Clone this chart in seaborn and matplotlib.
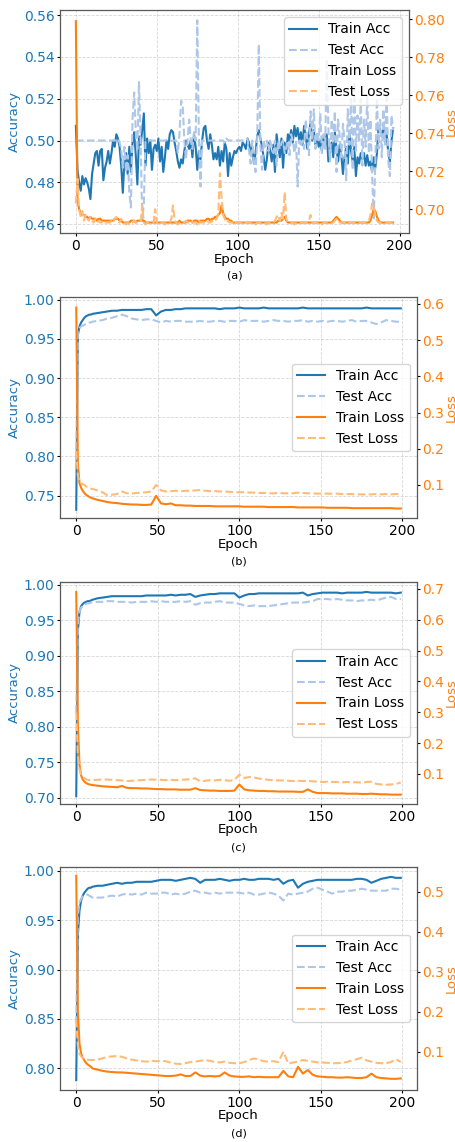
import numpy as np
import pandas as pd
import seaborn as sns
import matplotlib.pyplot as plt

plt.rcParams["font.family"] = ["DejaVu Sans"]
plt.rcParams["font.size"] = 10

BLUE, LBLUE = "#1f77b4", "#aec7e8"
ORANGE, LORANGE = "#ff7f0e", "#ffbb78"

# ---- panel (a): one value per epoch (0..196)
a_epochs = list(range(197))
a_train_acc = [
    0.507, 0.486, 0.480, 0.476, 0.483, 0.479, 0.482, 0.480, 0.477, 0.472,
    0.484, 0.489, 0.494, 0.495, 0.488, 0.495, 0.496, 0.481, 0.487, 0.490,
    0.495, 0.489, 0.494, 0.500, 0.497, 0.503, 0.501, 0.497, 0.488, 0.475,
    0.490, 0.494, 0.484, 0.497, 0.485, 0.499, 0.504, 0.493, 0.479, 0.502,
    0.498, 0.505, 0.513, 0.488, 0.501, 0.494, 0.500, 0.486, 0.496, 0.498,
    0.495, 0.501, 0.490, 0.497, 0.485, 0.492, 0.500, 0.496, 0.503, 0.505,
    0.504, 0.499, 0.495, 0.490, 0.487, 0.491, 0.489, 0.495, 0.500, 0.498,
    0.496, 0.500, 0.492, 0.503, 0.497, 0.486, 0.495, 0.491, 0.500, 0.506,
    0.507, 0.500, 0.496, 0.503, 0.498, 0.491, 0.494, 0.491, 0.497, 0.488,
    0.495, 0.490, 0.499, 0.496, 0.483, 0.494, 0.488, 0.492, 0.495, 0.494,
    0.496, 0.497, 0.495, 0.499, 0.498, 0.496, 0.501, 0.499, 0.494, 0.497,
    0.489, 0.494, 0.502, 0.505, 0.501, 0.497, 0.492, 0.486, 0.491, 0.499,
    0.495, 0.490, 0.498, 0.485, 0.503, 0.497, 0.492, 0.501, 0.487, 0.499,
    0.494, 0.503, 0.500, 0.505, 0.499, 0.507, 0.502, 0.506, 0.500, 0.504,
    0.498, 0.507, 0.502, 0.496, 0.503, 0.509, 0.500, 0.505, 0.498, 0.503,
    0.497, 0.500, 0.495, 0.502, 0.498, 0.503, 0.490, 0.496, 0.499, 0.492,
    0.504, 0.496, 0.490, 0.498, 0.493, 0.484, 0.492, 0.497, 0.489, 0.503,
    0.495, 0.490, 0.497, 0.483, 0.492, 0.489, 0.494, 0.491, 0.494, 0.488,
    0.493, 0.488, 0.490, 0.485, 0.492, 0.487, 0.494, 0.507, 0.505, 0.502,
    0.506, 0.499, 0.503, 0.494, 0.490, 0.500, 0.506,
]
a_test_acc = [
    0.500, 0.500, 0.500, 0.500, 0.500, 0.500, 0.500, 0.500, 0.500, 0.500,
    0.500, 0.500, 0.500, 0.500, 0.500, 0.500, 0.500, 0.500, 0.500, 0.500,
    0.500, 0.500, 0.500, 0.500, 0.500, 0.500, 0.501, 0.499, 0.496, 0.487,
    0.497, 0.485, 0.493, 0.475, 0.468, 0.510, 0.523, 0.505, 0.495, 0.528,
    0.500, 0.462, 0.470, 0.500, 0.500, 0.500, 0.500, 0.500, 0.500, 0.500,
    0.500, 0.500, 0.500, 0.500, 0.500, 0.500, 0.500, 0.500, 0.500, 0.500,
    0.500, 0.500, 0.500, 0.494, 0.503, 0.519, 0.517, 0.500, 0.491, 0.500,
    0.510, 0.500, 0.496, 0.504, 0.500, 0.5575, 0.502, 0.478, 0.500, 0.500,
    0.500, 0.500, 0.500, 0.500, 0.500, 0.500, 0.500, 0.500, 0.500, 0.500,
    0.500, 0.500, 0.499, 0.501, 0.500, 0.500, 0.500, 0.500, 0.500, 0.500,
    0.500, 0.500, 0.500, 0.500, 0.500, 0.500, 0.501, 0.495, 0.489, 0.500,
    0.490, 0.485, 0.500, 0.546, 0.498, 0.486, 0.500, 0.497, 0.500, 0.495,
    0.500, 0.497, 0.494, 0.500, 0.488, 0.500, 0.496, 0.499, 0.500, 0.494,
    0.497, 0.500, 0.493, 0.503, 0.500, 0.494, 0.500, 0.478, 0.500, 0.497,
    0.500, 0.496, 0.510, 0.500, 0.493, 0.514, 0.500, 0.515, 0.496, 0.504,
    0.500, 0.513, 0.494, 0.503, 0.496, 0.539, 0.505, 0.490, 0.510, 0.499,
    0.514, 0.485, 0.510, 0.502, 0.492, 0.508, 0.500, 0.481, 0.515, 0.498,
    0.520, 0.486, 0.528, 0.495, 0.512, 0.500, 0.520, 0.488, 0.510, 0.497,
    0.521, 0.494, 0.510, 0.484, 0.462, 0.490, 0.520, 0.496, 0.510, 0.492,
    0.515, 0.498, 0.523, 0.490, 0.483, 0.512, 0.505,
]
a_train_loss = [
    0.799, 0.705, 0.700, 0.698, 0.697, 0.697, 0.696, 0.696, 0.695, 0.696,
    0.695, 0.695, 0.695, 0.694, 0.695, 0.695, 0.694, 0.694, 0.694, 0.694,
    0.694, 0.694, 0.694, 0.694, 0.695, 0.695, 0.695, 0.694, 0.694, 0.693,
    0.693, 0.693, 0.693, 0.693, 0.694, 0.694, 0.694, 0.693, 0.694, 0.694,
    0.694, 0.694, 0.694, 0.693, 0.693, 0.693, 0.693, 0.693, 0.693, 0.693,
    0.693, 0.693, 0.693, 0.693, 0.693, 0.693, 0.693, 0.693, 0.693, 0.693,
    0.693, 0.693, 0.693, 0.693, 0.694, 0.693, 0.693, 0.693, 0.693, 0.694,
    0.694, 0.694, 0.693, 0.694, 0.694, 0.694, 0.693, 0.694, 0.694, 0.694,
    0.694, 0.695, 0.695, 0.694, 0.695, 0.695, 0.696, 0.696, 0.697, 0.698,
    0.702, 0.698, 0.696, 0.695, 0.695, 0.694, 0.694, 0.693, 0.693, 0.693,
    0.693, 0.693, 0.693, 0.693, 0.693, 0.693, 0.693, 0.693, 0.693, 0.693,
    0.693, 0.693, 0.693, 0.693, 0.693, 0.693, 0.693, 0.693, 0.693, 0.693,
    0.693, 0.693, 0.693, 0.693, 0.693, 0.694, 0.694, 0.694, 0.695, 0.696,
    0.694, 0.693, 0.693, 0.693, 0.693, 0.693, 0.693, 0.693, 0.693, 0.693,
    0.693, 0.693, 0.693, 0.693, 0.693, 0.693, 0.693, 0.693, 0.693, 0.693,
    0.693, 0.693, 0.693, 0.693, 0.693, 0.693, 0.693, 0.693, 0.693, 0.694,
    0.695, 0.696, 0.695, 0.694, 0.693, 0.693, 0.693, 0.693, 0.693, 0.693,
    0.693, 0.693, 0.693, 0.693, 0.693, 0.693, 0.693, 0.693, 0.693, 0.693,
    0.693, 0.693, 0.694, 0.697, 0.700, 0.699, 0.696, 0.694, 0.693, 0.693,
    0.693, 0.693, 0.693, 0.693, 0.693, 0.693, 0.693,
]
a_test_loss = [
    0.703, 0.716, 0.700, 0.696, 0.699, 0.694, 0.697, 0.695, 0.694, 0.696,
    0.694, 0.693, 0.695, 0.693, 0.694, 0.693, 0.693, 0.694, 0.693, 0.693,
    0.693, 0.693, 0.694, 0.693, 0.695, 0.696, 0.694, 0.693, 0.695, 0.693,
    0.693, 0.692, 0.693, 0.692, 0.693, 0.693, 0.694, 0.693, 0.693, 0.693,
    0.693, 0.702, 0.693, 0.692, 0.693, 0.693, 0.693, 0.693, 0.693, 0.700,
    0.693, 0.692, 0.693, 0.693, 0.693, 0.692, 0.693, 0.693, 0.693, 0.695,
    0.702, 0.694, 0.693, 0.692, 0.693, 0.693, 0.693, 0.693, 0.694, 0.693,
    0.693, 0.694, 0.693, 0.693, 0.693, 0.692, 0.694, 0.693, 0.693, 0.693,
    0.693, 0.694, 0.693, 0.693, 0.694, 0.693, 0.694, 0.695, 0.698, 0.719,
    0.706, 0.697, 0.695, 0.693, 0.694, 0.693, 0.693, 0.693, 0.692, 0.693,
    0.693, 0.693, 0.693, 0.692, 0.693, 0.693, 0.693, 0.693, 0.693, 0.693,
    0.693, 0.692, 0.693, 0.693, 0.693, 0.693, 0.693, 0.693, 0.692, 0.693,
    0.693, 0.693, 0.693, 0.694, 0.696, 0.697, 0.694, 0.698, 0.695, 0.709,
    0.695, 0.693, 0.693, 0.693, 0.693, 0.692, 0.693, 0.693, 0.693, 0.693,
    0.693, 0.693, 0.693, 0.693, 0.694, 0.697, 0.693, 0.693, 0.693, 0.693,
    0.693, 0.693, 0.692, 0.693, 0.693, 0.693, 0.693, 0.693, 0.693, 0.693,
    0.694, 0.695, 0.694, 0.693, 0.693, 0.693, 0.693, 0.692, 0.693, 0.693,
    0.693, 0.693, 0.693, 0.693, 0.693, 0.693, 0.693, 0.693, 0.693, 0.693,
    0.693, 0.694, 0.697, 0.703, 0.701, 0.697, 0.694, 0.693, 0.693, 0.693,
    0.693, 0.693, 0.693, 0.693, 0.693, 0.693, 0.693,
]

# ---- panels (b)-(d): logged at these epochs
epochs = [0, 1, 2, 3, 4, 5, 6, 7, 8, 9] + list(range(10, 200, 3))

b_train_acc = [
    0.732, 0.955, 0.966, 0.971, 0.974, 0.977, 0.979, 0.980, 0.981, 0.981,
    0.982, 0.983, 0.984, 0.985, 0.986, 0.986, 0.987, 0.987, 0.987, 0.987,
    0.987, 0.988, 0.988, 0.980, 0.985, 0.987, 0.987, 0.988, 0.988, 0.989,
    0.989, 0.989, 0.989, 0.989, 0.989, 0.989, 0.988, 0.989, 0.989, 0.989,
    0.990, 0.989, 0.989, 0.989, 0.989, 0.990, 0.989, 0.989, 0.989, 0.989,
    0.989, 0.989, 0.989, 0.990, 0.989, 0.989, 0.989, 0.989, 0.989, 0.989,
    0.989, 0.989, 0.989, 0.989, 0.989, 0.989, 0.990, 0.989, 0.989, 0.989,
    0.989, 0.989, 0.989, 0.989,
]
b_test_acc = [
    0.795, 0.960, 0.964, 0.966, 0.967, 0.968, 0.969, 0.970, 0.971, 0.971,
    0.972, 0.973, 0.974, 0.976, 0.977, 0.979, 0.981, 0.979, 0.976, 0.975,
    0.974, 0.975, 0.975, 0.973, 0.971, 0.973, 0.972, 0.973, 0.973, 0.972,
    0.972, 0.972, 0.973, 0.972, 0.972, 0.973, 0.973, 0.972, 0.973, 0.973,
    0.972, 0.974, 0.973, 0.973, 0.973, 0.972, 0.973, 0.974, 0.973, 0.973,
    0.972, 0.973, 0.973, 0.974, 0.972, 0.973, 0.972, 0.973, 0.972, 0.973,
    0.973, 0.972, 0.973, 0.974, 0.972, 0.973, 0.973, 0.971, 0.969, 0.971,
    0.974, 0.973, 0.972, 0.972,
]
b_train_loss = [
    0.590, 0.160, 0.105, 0.092, 0.084, 0.078, 0.073, 0.070, 0.067, 0.065,
    0.063, 0.059, 0.056, 0.053, 0.051, 0.050, 0.048, 0.047, 0.046, 0.046,
    0.045, 0.045, 0.046, 0.070, 0.049, 0.047, 0.049, 0.044, 0.044, 0.043,
    0.043, 0.042, 0.042, 0.042, 0.042, 0.041, 0.041, 0.041, 0.041, 0.041,
    0.041, 0.040, 0.040, 0.040, 0.040, 0.040, 0.039, 0.039, 0.039, 0.039,
    0.039, 0.039, 0.038, 0.038, 0.038, 0.038, 0.038, 0.038, 0.037, 0.037,
    0.037, 0.037, 0.037, 0.036, 0.036, 0.036, 0.036, 0.036, 0.036, 0.036,
    0.036, 0.036, 0.035, 0.035,
]
b_test_loss = [
    0.195, 0.125, 0.110, 0.105, 0.102, 0.100, 0.096, 0.094, 0.092, 0.090,
    0.089, 0.085, 0.080, 0.072, 0.073, 0.075, 0.082, 0.077, 0.076, 0.078,
    0.079, 0.080, 0.082, 0.100, 0.085, 0.082, 0.083, 0.084, 0.083, 0.084,
    0.084, 0.085, 0.086, 0.084, 0.083, 0.083, 0.082, 0.082, 0.081, 0.080,
    0.080, 0.080, 0.079, 0.079, 0.078, 0.078, 0.077, 0.077, 0.078, 0.077,
    0.077, 0.077, 0.079, 0.078, 0.077, 0.077, 0.076, 0.077, 0.076, 0.076,
    0.076, 0.075, 0.075, 0.075, 0.074, 0.074, 0.074, 0.074, 0.075, 0.074,
    0.075, 0.074, 0.075, 0.075,
]

c_train_acc = [
    0.702, 0.935, 0.962, 0.970, 0.973, 0.975, 0.976, 0.977, 0.977, 0.978,
    0.979, 0.981, 0.982, 0.983, 0.984, 0.984, 0.984, 0.984, 0.984, 0.984,
    0.984, 0.985, 0.985, 0.985, 0.985, 0.985, 0.986, 0.985, 0.986, 0.986,
    0.987, 0.983, 0.985, 0.986, 0.987, 0.987, 0.988, 0.988, 0.988, 0.988,
    0.982, 0.985, 0.987, 0.987, 0.988, 0.988, 0.988, 0.988, 0.988, 0.988,
    0.988, 0.988, 0.988, 0.989, 0.985, 0.987, 0.988, 0.989, 0.989, 0.989,
    0.989, 0.988, 0.989, 0.989, 0.989, 0.989, 0.990, 0.989, 0.989, 0.989,
    0.989, 0.989, 0.988, 0.989,
]
c_test_acc = [
    0.820, 0.945, 0.963, 0.968, 0.970, 0.972, 0.973, 0.974, 0.974, 0.975,
    0.975, 0.976, 0.976, 0.977, 0.977, 0.976, 0.976, 0.976, 0.975, 0.976,
    0.976, 0.976, 0.977, 0.976, 0.977, 0.976, 0.976, 0.976, 0.977, 0.976,
    0.977, 0.972, 0.974, 0.975, 0.975, 0.976, 0.977, 0.975, 0.975, 0.975,
    0.973, 0.971, 0.970, 0.971, 0.970, 0.970, 0.970, 0.971, 0.972, 0.973,
    0.974, 0.975, 0.975, 0.975, 0.976, 0.977, 0.980, 0.980, 0.980, 0.979,
    0.980, 0.979, 0.978, 0.978, 0.977, 0.978, 0.978, 0.979, 0.978, 0.980,
    0.982, 0.983, 0.980, 0.980,
]
c_train_loss = [
    0.690, 0.260, 0.130, 0.095, 0.082, 0.075, 0.071, 0.068, 0.066, 0.065,
    0.064, 0.062, 0.060, 0.059, 0.058, 0.057, 0.061, 0.055, 0.054, 0.054,
    0.053, 0.053, 0.052, 0.051, 0.051, 0.050, 0.050, 0.050, 0.049, 0.049,
    0.049, 0.054, 0.048, 0.047, 0.046, 0.046, 0.045, 0.045, 0.045, 0.046,
    0.066, 0.050, 0.047, 0.046, 0.045, 0.045, 0.044, 0.044, 0.043, 0.043,
    0.043, 0.043, 0.042, 0.042, 0.050, 0.042, 0.038, 0.038, 0.038, 0.037,
    0.037, 0.037, 0.036, 0.036, 0.036, 0.035, 0.035, 0.036, 0.035, 0.034,
    0.034, 0.033, 0.033, 0.033,
]
c_test_loss = [
    0.300, 0.160, 0.115, 0.098, 0.090, 0.086, 0.083, 0.081, 0.080, 0.080,
    0.080, 0.081, 0.082, 0.082, 0.081, 0.080, 0.079, 0.077, 0.078, 0.079,
    0.080, 0.081, 0.082, 0.082, 0.081, 0.080, 0.081, 0.080, 0.081, 0.082,
    0.083, 0.086, 0.076, 0.078, 0.080, 0.079, 0.081, 0.080, 0.078, 0.080,
    0.098, 0.087, 0.090, 0.089, 0.085, 0.083, 0.081, 0.080, 0.079, 0.079,
    0.078, 0.077, 0.078, 0.077, 0.078, 0.076, 0.075, 0.074, 0.075, 0.074,
    0.074, 0.073, 0.074, 0.073, 0.073, 0.072, 0.074, 0.075, 0.068, 0.066,
    0.065, 0.066, 0.068, 0.072,
]

d_train_acc = [
    0.788, 0.935, 0.960, 0.970, 0.975, 0.978, 0.980, 0.982, 0.983, 0.983,
    0.984, 0.985, 0.985, 0.986, 0.987, 0.988, 0.987, 0.988, 0.988, 0.989,
    0.989, 0.989, 0.989, 0.990, 0.991, 0.991, 0.991, 0.990, 0.991, 0.992,
    0.993, 0.992, 0.988, 0.991, 0.991, 0.991, 0.992, 0.991, 0.990, 0.991,
    0.991, 0.992, 0.991, 0.991, 0.992, 0.992, 0.992, 0.991, 0.992, 0.987,
    0.990, 0.991, 0.983, 0.987, 0.989, 0.990, 0.991, 0.991, 0.991, 0.991,
    0.991, 0.991, 0.991, 0.991, 0.992, 0.992, 0.991, 0.988, 0.990, 0.992,
    0.993, 0.994, 0.993, 0.993,
]
d_test_acc = [
    0.845, 0.955, 0.968, 0.972, 0.974, 0.975, 0.976, 0.976, 0.975, 0.974,
    0.973, 0.973, 0.973, 0.974, 0.975, 0.974, 0.976, 0.977, 0.976, 0.977,
    0.976, 0.978, 0.977, 0.977, 0.978, 0.978, 0.976, 0.977, 0.976, 0.977,
    0.979, 0.980, 0.978, 0.978, 0.977, 0.978, 0.977, 0.978, 0.978, 0.978,
    0.978, 0.977, 0.978, 0.976, 0.976, 0.977, 0.978, 0.977, 0.975, 0.970,
    0.977, 0.976, 0.977, 0.978, 0.979, 0.982, 0.983, 0.981, 0.979, 0.977,
    0.979, 0.979, 0.980, 0.980, 0.981, 0.982, 0.981, 0.980, 0.980, 0.980,
    0.980, 0.982, 0.982, 0.981,
]
d_train_loss = [
    0.540, 0.200, 0.120, 0.095, 0.085, 0.078, 0.072, 0.068, 0.065, 0.062,
    0.058, 0.055, 0.052, 0.050, 0.049, 0.048, 0.048, 0.047, 0.046, 0.045,
    0.044, 0.043, 0.042, 0.041, 0.040, 0.039, 0.039, 0.040, 0.043, 0.039,
    0.039, 0.048, 0.040, 0.038, 0.039, 0.038, 0.039, 0.048, 0.040, 0.038,
    0.037, 0.037, 0.038, 0.036, 0.037, 0.036, 0.036, 0.036, 0.036, 0.052,
    0.038, 0.036, 0.062, 0.045, 0.054, 0.042, 0.038, 0.037, 0.036, 0.036,
    0.035, 0.035, 0.036, 0.035, 0.034, 0.034, 0.036, 0.045, 0.036, 0.034,
    0.033, 0.032, 0.032, 0.033,
]
d_test_loss = [
    0.180, 0.115, 0.095, 0.088, 0.085, 0.083, 0.082, 0.080, 0.079, 0.079,
    0.079, 0.080, 0.083, 0.087, 0.088, 0.089, 0.087, 0.083, 0.080, 0.078,
    0.076, 0.075, 0.077, 0.076, 0.077, 0.076, 0.072, 0.070, 0.069, 0.071,
    0.074, 0.075, 0.077, 0.079, 0.077, 0.074, 0.073, 0.075, 0.072, 0.071,
    0.071, 0.074, 0.079, 0.083, 0.080, 0.076, 0.075, 0.076, 0.074, 0.100,
    0.070, 0.073, 0.075, 0.079, 0.077, 0.075, 0.073, 0.073, 0.072, 0.071,
    0.071, 0.072, 0.074, 0.078, 0.081, 0.085, 0.078, 0.075, 0.072, 0.071,
    0.071, 0.074, 0.081, 0.074,
]

# right-axis tick labels as shown in each panel
a_loss_ticks = [0.70, 0.72, 0.74, 0.76, 0.78, 0.80]
b_loss_ticks = [0.1, 0.2, 0.3, 0.4, 0.5, 0.6]
c_loss_ticks = [0.1, 0.2, 0.3, 0.4, 0.5, 0.6, 0.7]
d_loss_ticks = [0.1, 0.2, 0.3, 0.4, 0.5]

W, H = 456, 1142
fig = plt.figure(figsize=(W / 100, H / 100), dpi=100)


def panel(box, x, tr_acc, te_acc, tr_loss, te_loss, acc_lim, loss_lim, loss_ticks, tag, loc):
    # box = (left, top, right, bottom) in pixels
    l, t, r, b = box
    ax = fig.add_axes([l / W, 1 - b / H, (r - l) / W, (b - t) / H])
    ax2 = ax.twinx()
    sns.lineplot(x=x, y=tr_acc, ax=ax, color=BLUE, lw=1.5, label="Train Acc", legend=False)
    sns.lineplot(x=x, y=te_acc, ax=ax, color=LBLUE, lw=1.5, linestyle="--", label="Test Acc", legend=False)
    sns.lineplot(x=x, y=tr_loss, ax=ax2, color=ORANGE, lw=1.5, label="Train Loss", legend=False)
    sns.lineplot(x=x, y=te_loss, ax=ax2, color=LORANGE, lw=1.5, linestyle="--", label="Test Loss", legend=False)
    ax.set_ylim(*acc_lim)
    ax2.set_yticks(loss_ticks)
    ax2.set_ylim(*loss_lim)

    ax.set_xlabel("Epoch", fontsize=9.5)
    ax.set_ylabel("Accuracy", color=BLUE, fontsize=9.5)
    ax2.set_ylabel("Loss", color=ORANGE, fontsize=9.5, rotation=90)
    w, h = r - l, b - t
    ax.xaxis.set_label_coords(0.5, -19.5 / h)
    ax.yaxis.set_label_coords(-39 / w, 0.5)
    ax2.yaxis.set_label_coords((445 - l) / w, 0.5)

    ax.tick_params(axis="both", labelsize=10, length=2.5, pad=1.5)
    ax2.tick_params(axis="y", labelsize=10, length=2.5, pad=1.5)
    ax.tick_params(axis="y", labelcolor=BLUE)
    ax2.tick_params(axis="y", labelcolor=ORANGE)
    ax.grid(True, linestyle="--", linewidth=0.6, alpha=0.5)
    for sp in ax2.spines.values():
        sp.set_color("0.35")

    h1, l1 = ax.get_legend_handles_labels()
    h2, l2 = ax2.get_legend_handles_labels()
    ax2.legend(h1 + h2, l1 + l2, loc=loc, fontsize=10)
    ax.text(0.5, -43 / h, tag, transform=ax.transAxes, ha="center", va="center", fontsize=8)


panel((60, 10, 409, 233), a_epochs, a_train_acc, a_test_acc, a_train_loss, a_test_loss,
      (0.4558, 0.5624), (0.6875, 0.8049), a_loss_ticks, "(a)", "upper right")
panel((60, 297, 417, 518), epochs, b_train_acc, b_test_acc, b_train_loss, b_test_loss,
      (0.7215, 1.0035), (0.0088, 0.6193), b_loss_ticks, "(b)", "center right")
panel((60, 582, 417, 804), epochs, c_train_acc, c_test_acc, c_train_loss, c_test_loss,
      (0.691, 1.004), (0.0026, 0.7227), c_loss_ticks, "(c)", "center right")
panel((60, 867, 417, 1090), epochs, d_train_acc, d_test_acc, d_train_loss, d_test_loss,
      (0.778, 1.004), (0.004, 0.562), d_loss_ticks, "(d)", "center right")

fig.savefig("out.png", dpi=100)
